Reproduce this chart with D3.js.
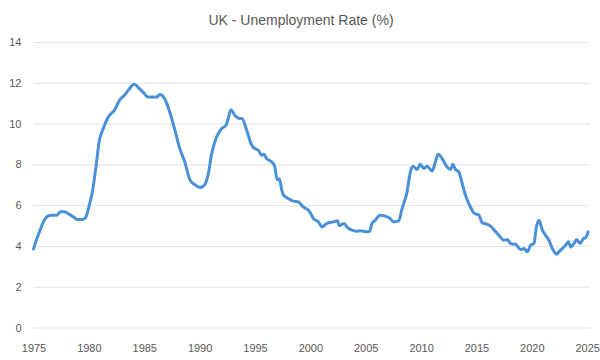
<!DOCTYPE html>
<html>
<head>
<meta charset="utf-8">
<script src="https://cdn.jsdelivr.net/npm/d3@7"></script>
<style>
  html, body { margin: 0; padding: 0; background: #fff; }
  svg { display: block; font-family: "Liberation Sans", Arial, sans-serif; }
</style>
</head>
<body>
<svg id="chart" width="600" height="360"></svg>
<script>
// ---- Data ----
const title = "UK - Unemployment Rate (%)";
const years = [
  1975.00, 1975.36, 1975.54, 1975.97, 1976.27, 1976.63, 1977.08, 1977.44, 1977.78, 1978.23,
  1978.68, 1978.98, 1979.43, 1979.73, 1980.04, 1980.34, 1980.64, 1980.95, 1981.24, 1981.85,
  1982.30, 1982.76, 1983.21, 1983.66, 1984.09, 1984.59, 1985.02, 1985.32, 1985.72, 1986.13,
  1986.40, 1986.86, 1987.31, 1987.76, 1988.21, 1988.67, 1989.12, 1989.57, 1990.02, 1990.32,
  1990.77, 1991.08, 1991.53, 1991.98, 1992.38, 1992.58, 1992.82, 1993.19, 1993.64, 1993.82,
  1994.25, 1994.70, 1995.00, 1995.30, 1995.61, 1995.80, 1996.06, 1996.51, 1996.78, 1997.00,
  1997.20, 1997.42, 1997.56, 1998.01, 1998.47, 1998.92, 1999.12, 1999.37, 1999.82, 2000.02,
  2000.27, 2000.73, 2001.03, 2001.48, 2002.08, 2002.44, 2002.60, 2002.85, 2003.05, 2003.30,
  2003.75, 2004.20, 2004.50, 2004.80, 2005.25, 2005.40, 2005.56, 2005.86, 2006.16, 2006.31,
  2006.76, 2007.22, 2007.52, 2007.97, 2008.28, 2008.73, 2009.03, 2009.27, 2009.63, 2009.93,
  2010.23, 2010.54, 2010.99, 2011.29, 2011.54, 2011.90, 2012.35, 2012.65, 2012.86, 2013.10,
  2013.40, 2013.71, 2014.00, 2014.45, 2014.82, 2015.21, 2015.52, 2015.97, 2016.27, 2016.57,
  2017.02, 2017.47, 2017.78, 2018.08, 2018.53, 2018.98, 2019.28, 2019.59, 2019.89, 2020.19,
  2020.41, 2020.64, 2020.95, 2021.24, 2021.54, 2021.85, 2022.24, 2022.44, 2022.75, 2023.05,
  2023.30, 2023.51, 2023.80, 2024.05, 2024.35, 2024.66, 2024.86, 2025.09
];
const rates = [
  3.85, 4.44, 4.69, 5.26, 5.45, 5.50, 5.50, 5.67, 5.67, 5.55,
  5.39, 5.29, 5.29, 5.42, 6.00, 6.73, 7.87, 9.18, 9.67, 10.40,
  10.65, 11.14, 11.39, 11.71, 11.93, 11.70, 11.47, 11.30, 11.30, 11.30,
  11.43, 11.20, 10.55, 9.70, 8.77, 8.10, 7.25, 7.00, 6.87, 6.92,
  7.50, 8.50, 9.34, 9.75, 9.92, 10.25, 10.68, 10.40, 10.25, 10.25,
  9.67, 8.94, 8.77, 8.69, 8.45, 8.50, 8.28, 8.12, 7.90, 7.25,
  7.30, 6.73, 6.50, 6.32, 6.20, 6.16, 6.05, 5.91, 5.75, 5.60,
  5.34, 5.18, 4.93, 5.10, 5.18, 5.23, 5.00, 5.06, 5.10, 4.93,
  4.77, 4.72, 4.75, 4.72, 4.69, 4.77, 5.10, 5.26, 5.46, 5.50,
  5.46, 5.34, 5.18, 5.23, 5.83, 6.65, 7.63, 7.91, 7.75, 8.00,
  7.80, 7.91, 7.68, 8.12, 8.50, 8.28, 7.87, 7.75, 8.00, 7.75,
  7.63, 7.06, 6.49, 5.91, 5.59, 5.52, 5.13, 5.06, 4.97, 4.80,
  4.52, 4.28, 4.31, 4.12, 4.08, 3.82, 3.87, 3.71, 4.03, 4.12,
  4.93, 5.26, 4.77, 4.52, 4.28, 3.87, 3.59, 3.71, 3.87, 4.03,
  4.20, 3.95, 4.12, 4.31, 4.12, 4.36, 4.41, 4.69
];
const xTicks = [1975, 1980, 1985, 1990, 1995, 2000, 2005, 2010, 2015, 2020, 2025];
const yTicks = [0, 2, 4, 6, 8, 10, 12, 14];

// ---- Chart ----
const svg = d3.select("#chart");
const x = d3.scaleLinear().domain([1975, 2025.25]).range([33.5, 590]);
const y = d3.scaleLinear().domain([0, 14]).range([327.5, 42]);

svg.append("text")
  .attr("x", 301).attr("y", 25)
  .attr("text-anchor", "middle")
  .attr("font-size", 14)
  .attr("fill", "#595959")
  .text(title);

// gridlines + y labels
const yAxis = d3.axisLeft(y).tickValues(yTicks).tickSize(-(590 - 33.5)).tickPadding(12);
const gy = svg.append("g").attr("transform", "translate(33.5,0)").call(yAxis);
gy.select(".domain").remove();
gy.selectAll(".tick line").attr("stroke", "#e3e3e3").attr("stroke-width", 1);
gy.selectAll(".tick text").attr("fill", "#595959").attr("font-size", 11)
  .attr("font-family", "Liberation Sans, Arial, sans-serif");

// x labels
const xAxis = d3.axisBottom(x).tickValues(xTicks).tickFormat(d3.format("d")).tickSize(0).tickPadding(12);
const gx = svg.append("g").attr("transform", "translate(0,332)").call(xAxis);
gx.select(".domain").remove();
gx.selectAll(".tick text").attr("fill", "#595959").attr("font-size", 11)
  .attr("font-family", "Liberation Sans, Arial, sans-serif");

// line
const pts = years.map((yr, i) => [yr, rates[i]]);
svg.append("path")
  .datum(pts)
  .attr("fill", "none")
  .attr("stroke", "#4a90d9")
  .attr("stroke-width", 3)
  .attr("stroke-linejoin", "round")
  .attr("stroke-linecap", "round")
  .attr("d", d3.line().x(d => x(d[0])).y(d => y(d[1])).curve(d3.curveMonotoneX));
</script>
</body>
</html>
